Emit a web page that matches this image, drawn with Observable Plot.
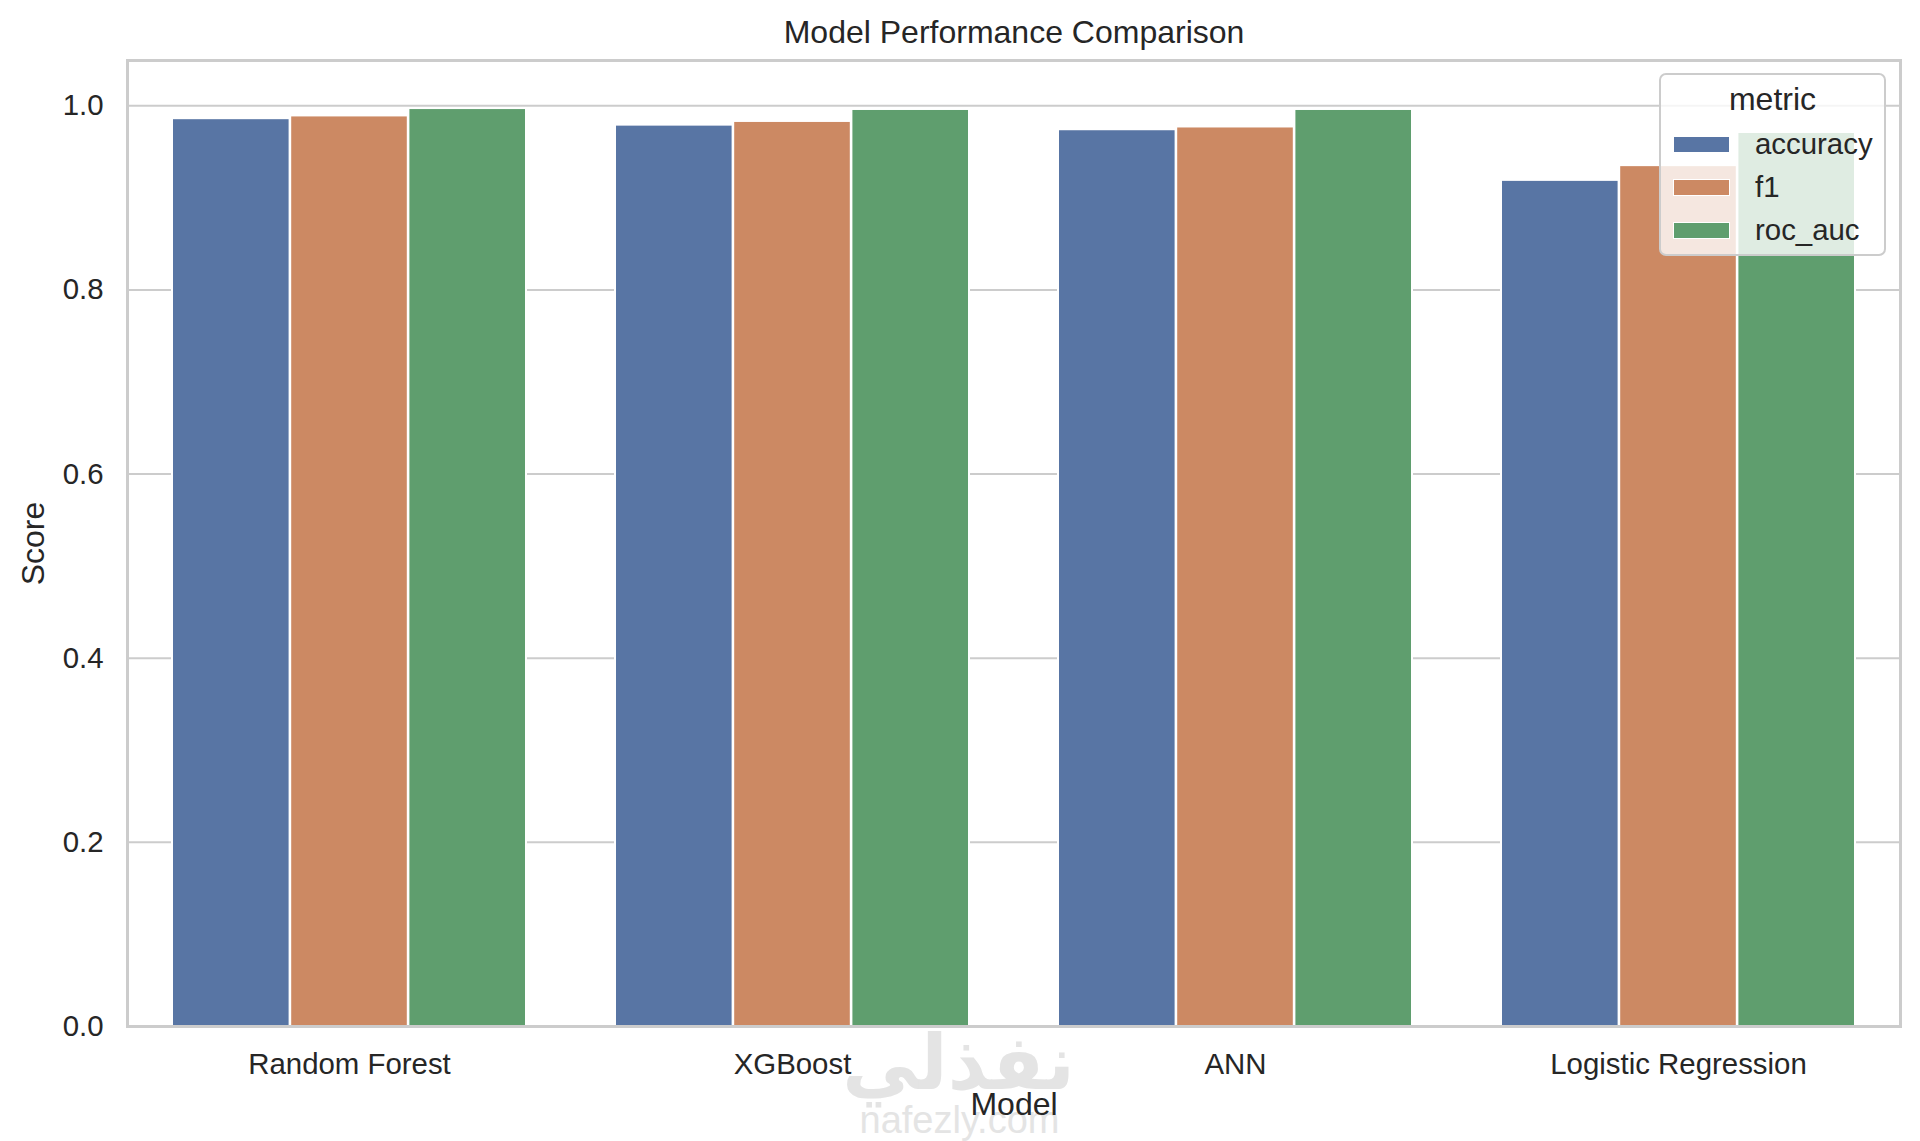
<!DOCTYPE html>
<html>
<head>
<meta charset="utf-8">
<script src="https://cdn.jsdelivr.net/npm/d3@7"></script>
<script src="https://cdn.jsdelivr.net/npm/@observablehq/plot@0.6"></script>
<style>
  html, body { margin: 0; padding: 0; background: #fff; }
  #wrap { position: relative; width: 1920px; height: 1141px; font-family: "Liberation Sans", Arial, sans-serif; color: #262626; }
  #legend { position: absolute; left: 1659px; top: 73px; width: 223px; height: 179px;
    border: 2px solid #cccccc; border-radius: 7px; background: rgba(255,255,255,0.8); box-sizing: content-box; }
  #legend .title { position: absolute; left: 0; right: 0; top: 6px; text-align: center; font-size: 32px; line-height: 36px; }
  #legend .item { position: absolute; left: 12px; height: 34px; display: flex; align-items: center; font-size: 29.4px; }
  #legend .sw { width: 55px; height: 15px; border: 1.5px solid #fff; margin-right: 25px; }
</style>
</head>
<body>
<div id="wrap"></div>
<script>
const models = ["Random Forest", "XGBoost", "ANN", "Logistic Regression"];
const metrics = ["accuracy", "f1", "roc_auc"];
const accuracy = [0.986, 0.979, 0.974, 0.919];
const f1 = [0.989, 0.983, 0.977, 0.935];
const rocAuc = [0.997, 0.996, 0.996, 0.971];
const yTicks = [0, 0.2, 0.4, 0.6, 0.8, 1.0];
const colors = ["#5875a4", "#cc8963", "#5f9e6e"];
const title = "Model Performance Comparison";
const xLabel = "Model";
const yLabel = "Score";
const watermarkAr = "نفذلي";
const watermarkEn = "nafezly.com";

const series = {accuracy, f1, roc_auc: rocAuc};
const data = [];
metrics.forEach(m => models.forEach((model, i) => data.push({model, metric: m, value: series[m][i]})));

const W = 1920, H = 1141;
const mL = 127, mR = 20, mT = 60, mB = 115;
const step = (W - mL - mR) / (models.length - 0.2 + 0.2);
const band = step * 0.8;
const third = band / metrics.length;

const barMarks = metrics.map((m, j) => Plot.barY(data.filter(d => d.metric === m), {
  x: "model", y: "value", fill: "metric",
  stroke: "white", strokeWidth: 2,
  insetLeft: j * third, insetRight: (metrics.length - 1 - j) * third
}));

const chart = Plot.plot({
  width: W, height: H,
  marginLeft: mL, marginRight: mR, marginTop: mT, marginBottom: mB,
  style: {fontFamily: "'Liberation Sans', Arial, sans-serif", fontSize: "29.4px", color: "#262626", background: "white"},
  x: {domain: models, paddingInner: 0.2, paddingOuter: 0.1, label: null},
  y: {domain: [0, 1.0492], label: null},
  color: {domain: metrics, range: colors},
  marks: [
    Plot.text([watermarkAr], {text: d => d, frameAnchor: "bottom", lineAnchor: "middle", textAnchor: "middle", dx: 958 - 1013.5, dy: 38, fontSize: 76, fontWeight: "bold", fill: "#e4e4e4", fontFamily: "DejaVu Sans"}),
    Plot.text([watermarkEn], {text: d => d, frameAnchor: "bottom", lineAnchor: "middle", textAnchor: "middle", dx: 959 - 1013.5, dy: 94, fontSize: 38, fill: "#e4e4e4", fontFamily: "'Liberation Sans', Arial, sans-serif"}),
    Plot.ruleY(yTicks, {stroke: "#cccccc", strokeWidth: 2}),
    ...barMarks,
    Plot.frame({stroke: "#cccccc", strokeWidth: 3}),
    Plot.axisX({tickSize: 0, tickPadding: 27, label: null, fontSize: 29.4}),
    Plot.axisY({ticks: yTicks, tickSize: 0, tickPadding: 24, tickFormat: d3.format(".1f"), label: null, fontSize: 29.4}),
    Plot.text([title], {text: d => d, frameAnchor: "top", lineAnchor: "middle", textAnchor: "middle", dy: -28, fontSize: 32, fill: "#262626"}),
    Plot.text([xLabel], {text: d => d, frameAnchor: "bottom", lineAnchor: "middle", textAnchor: "middle", dy: 78.5, fontSize: 32, fill: "#262626"}),
    Plot.text([yLabel], {text: d => d, frameAnchor: "left", lineAnchor: "middle", textAnchor: "middle", dx: -94, rotate: -90, fontSize: 32, fill: "#262626"})
  ]
});

const wrap = document.getElementById("wrap");
wrap.appendChild(chart);

const legend = document.createElement("div");
legend.id = "legend";
const lt = document.createElement("div");
lt.className = "title";
lt.textContent = "metric";
legend.appendChild(lt);
metrics.forEach((m, j) => {
  const it = document.createElement("div");
  it.className = "item";
  it.style.top = (52 + j * 43) + "px";
  const sw = document.createElement("div");
  sw.className = "sw";
  sw.style.background = colors[j];
  it.appendChild(sw);
  const tx = document.createElement("span");
  tx.textContent = m;
  it.appendChild(tx);
  legend.appendChild(it);
});
wrap.appendChild(legend);
</script>
</body>
</html>
